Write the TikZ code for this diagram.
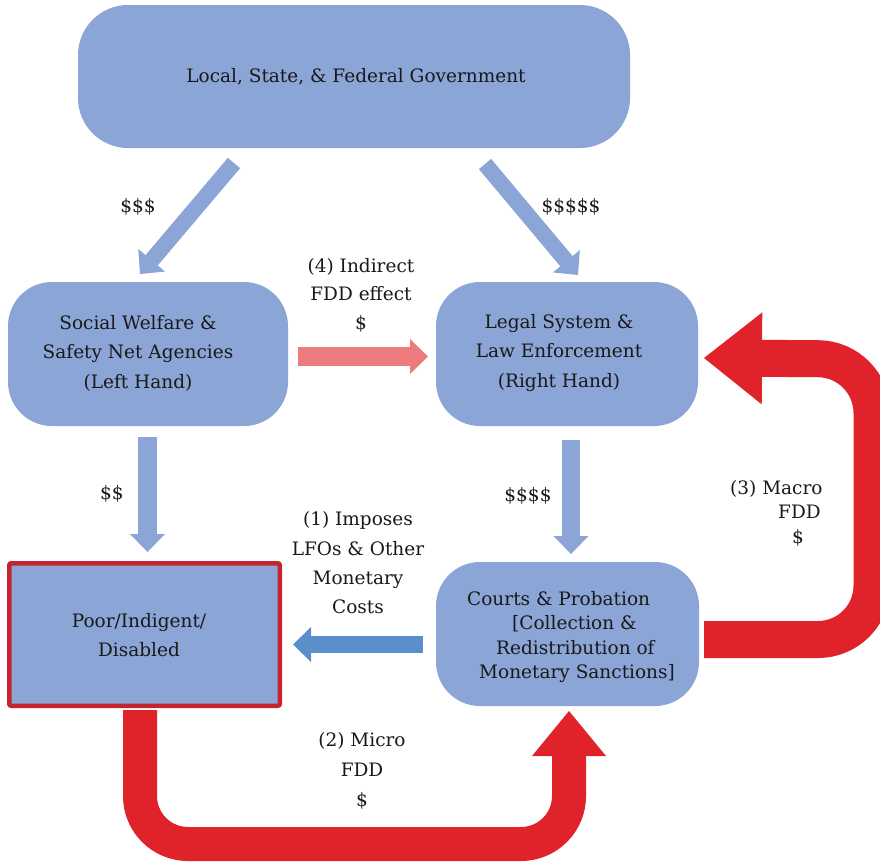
\documentclass[tikz,border=0pt]{standalone}
\usepackage{fontspec}
\setmainfont{DejaVu Serif}
\usetikzlibrary{arrows.meta}
\definecolor{boxblue}{RGB}{138,165,214}
\definecolor{pinkarrow}{RGB}{237,123,126}
\definecolor{steelarrow}{RGB}{90,143,203}
\definecolor{redarrow}{RGB}{224,34,42}
\definecolor{redborder}{RGB}{197,36,44}
\definecolor{inktext}{RGB}{25,25,25}
\tikzset{
  box/.style={fill=boxblue, draw=none, rounded corners=44pt, inner sep=0pt, outer sep=0pt},
  poorbox/.style={fill=boxblue, draw=redborder, line width=4.5pt, rounded corners=2pt, inner sep=0pt, outer sep=0pt},
  txt/.style={text=inktext, align=center, inner sep=0pt, font=\fontsize{18.5}{29.5}\selectfont},
  flow/.style={line width=#1, -{Triangle[length=18pt,width=35pt,line width=0pt]}},
  bigflow/.style args={#1/#2/#3}{draw=redarrow, line width=#1, rounded corners=50pt,
     -{Triangle[length=#2,width=#3,line width=0pt]}}
}
\begin{document}
\begin{tikzpicture}[x=1pt,y=-1pt]
\useasboundingbox (0,0) rectangle (880,863);

% boxes
\node[box, rounded corners=50pt, minimum width=552pt, minimum height=143pt] (gov) at (354,76.5) {};
\node[txt, font=\fontsize{18.5}{29}\selectfont] (govtxt) at (356,77) {Local, State, \& Federal Government};

\node[box, minimum width=280pt, minimum height=144pt] (social) at (148,354) {};
\node[txt] (socialtxt) at (138,353) {Social Welfare \&\\Safety Net Agencies\\(Left Hand)};

\node[box, minimum width=262pt, minimum height=144pt] (legal) at (567,354) {};
\node[txt] (legaltxt) at (559,353) {Legal System \&\\Law Enforcement\\(Right Hand)};

\node[box, minimum width=263pt, minimum height=144pt] (courts) at (567.5,634) {};
\node[txt, align=left, anchor=west, font=\fontsize{18.5}{24.3}\selectfont] (courtstxt) at (467,637)
  {Courts \& Probation\\\hspace*{45pt}[Collection \&\\\hspace*{29pt}Redistribution of\\\hspace*{12pt}Monetary Sanctions]};

\node[poorbox, minimum width=270.5pt, minimum height=142.5pt] (poor) at (144.5,634.5) {};
\node[txt, font=\fontsize{18.5}{29}\selectfont] (poortxt) at (139,635) {Poor/Indigent/\\Disabled};

% labels
\node[txt] (lab3) at (138,207) {\$\$\$};
\node[txt] (lab5) at (571,207) {\$\$\$\$\$};
\node[txt, font=\fontsize{18.5}{28.5}\selectfont] (lab4) at (361,295) {(4) Indirect\\FDD effect\\\$};
\node[txt] (lab2) at (112,494) {\$\$};
\node[txt] (lab4s) at (528,496) {\$\$\$\$};
\node[txt, font=\fontsize{18.5}{29.3}\selectfont] (lab1) at (358,563) {(1) Imposes\\LFOs \& Other\\Monetary\\Costs};
\node[txt, align=left, anchor=west, font=\fontsize{18.5}{24.5}\selectfont] (lab3m) at (730,513)
  {(3) Macro\\\hspace*{48pt}FDD\\\hspace*{62pt}\$};
\node[txt, font=\fontsize{18.5}{30}\selectfont] (lab2m) at (362,771) {(2) Micro\\FDD\\\$};

% connector end points
\coordinate (d1s) at (234,163);  \coordinate (d1e) at (140,274);
\coordinate (d2s) at (485,164);  \coordinate (d2e) at (578,275);
\coordinate (v1s) at (147.5,437); \coordinate (v1e) at (147.5,552);
\coordinate (v2s) at (571,440);  \coordinate (v2e) at (571,554);
\coordinate (hps) at (298,356.5); \coordinate (hpe) at (428,356.5);
\coordinate (hbs) at (423,644.5); \coordinate (hbe) at (293,644.5);
\coordinate (ub1) at (140,710);  \coordinate (ub2) at (140,844); \coordinate (ub3) at (569,844); \coordinate (ub4) at (569,711);
\coordinate (ur1) at (704,639.5); \coordinate (ur2) at (872,639.5); \coordinate (ur3) at (872,359); \coordinate (ur4) at (704,358);

% connectors
\draw[flow=16pt, draw=boxblue, fill=boxblue] (d1s) -- (d1e);
\draw[flow=16pt, draw=boxblue, fill=boxblue] (d2s) -- (d2e);
\draw[flow=19pt, draw=boxblue, fill=boxblue] (v1s) -- (v1e);
\draw[flow=18pt, draw=boxblue, fill=boxblue] (v2s) -- (v2e);
\draw[flow=19pt, draw=pinkarrow, fill=pinkarrow] (hps) -- (hpe);
\draw[flow=17pt, draw=steelarrow, fill=steelarrow] (hbs) -- (hbe);

\draw[bigflow=34pt/45pt/74pt, rounded corners=48pt] (ub1) -- (ub2) -- (ub3) -- (ub4);
\begin{scope}
  \clip (0,0) rectangle (880,863);
  \draw[bigflow=37pt/58pt/92pt, rounded corners=54pt] (ur1) -- (ur2) -- (ur3) -- (ur4);
\end{scope}
\end{tikzpicture}
\end{document}
